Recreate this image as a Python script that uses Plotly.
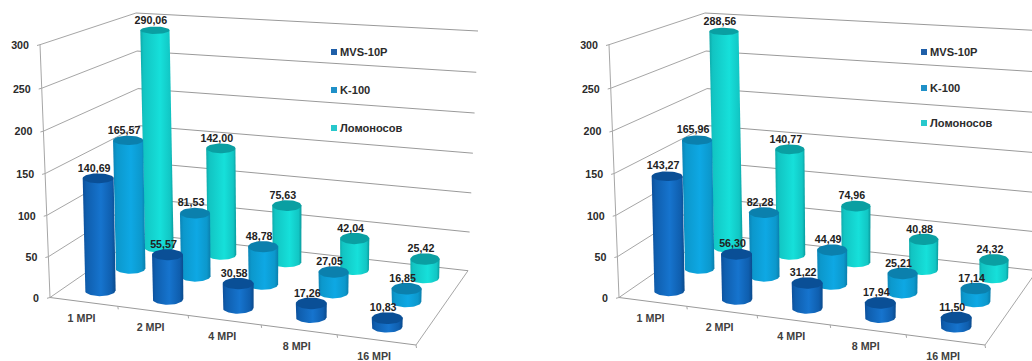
import numpy as np
import plotly.graph_objects as go

categories = ["1 MPI", "2 MPI", "4 MPI", "8 MPI", "16 MPI"]
series_names = ["MVS-10P", "K-100", "Ломоносов"]
y_ticks = [0, 50, 100, 150, 200, 250, 300]

left_mvs = [140.69, 55.57, 30.58, 17.26, 10.83]
left_k100 = [165.57, 81.53, 48.78, 27.05, 16.85]
left_lomonosov = [290.06, 142.00, 75.63, 42.04, 25.42]

right_mvs = [143.27, 56.30, 31.22, 17.94, 11.50]
right_k100 = [165.96, 82.28, 44.49, 25.21, 17.14]
right_lomonosov = [288.56, 140.77, 74.96, 40.88, 24.32]

panel_offset = [0, 569]
legend_x = [334, 924]
legend_y = [[52, 90, 128], [52, 88, 123]]

side_scales = [
    [[0, "#0c4f9a"], [0.12, "#0f5eae"], [0.55, "#1674ce"], [0.88, "#0f5eae"], [1, "#0a4a8c"]],
    [[0, "#0b84b6"], [0.12, "#0c98cc"], [0.55, "#0ea8e4"], [0.88, "#0c98cc"], [1, "#0a7eac"]],
    [[0, "#0ea8a8"], [0.1, "#12c4c2"], [0.6, "#16e0da"], [0.9, "#12c6c4"], [1, "#0a9a9c"]],
]
cap_colors = ["#0a4f96", "#0b80ad", "#0a9fa2"]
legend_colors = ["#1f5fa8", "#1f90c8", "#28c8cc"]
grid_color = "#a6a6a6"
text_color = "#2b2b2b"
FONT = "Liberation Sans"
TEXT_DY = 1.6

# projection corners of the plot box (floor and walls)
A0, A1 = np.array([50, 297.5]), np.array([40, 44.7])
C0, C1 = np.array([142, 234.0]), np.array([136, 13.0])
D0, D1 = np.array([468, 270.7]), np.array([478, 31.0])
B0 = np.array([416, 345.0])


def warp(t, k):
    return t / (t + (1 - t) * k)


def floor(u, v):
    uu, vv = warp(u, 1.1), warp(v, 0.92)
    return A0 + uu * (B0 - A0) + vv * (C0 - A0) + uu * vv * (A0 - B0 - C0 + D0)


def wall(p0, p1, value):
    return p0 + warp(value / 300, 1.04) * (p1 - p0)


fig = go.Figure()


def line(p, q, dx, color=grid_color, width=1):
    fig.add_trace(go.Scatter(x=[p[0] + dx, q[0] + dx], y=[p[1], q[1]], mode="lines",
                             line=dict(color=color, width=width), hoverinfo="skip"))


def text(xs, ys, labels, pos="middle center", size=10.7, color=text_color):
    fig.add_trace(go.Scatter(x=xs, y=[y + TEXT_DY for y in ys], text=labels, mode="text", textposition=pos,
                             textfont=dict(family=FONT, size=size, color=color, weight="bold"),
                             hoverinfo="skip", cliponaxis=False))


def cylinder(u, v, value, s, dx):
    base = floor(u, v)
    scale = (0.785 - 0.07 * v) * 1.03
    tilt = (-0.018 + 0.04 * u) * value
    r = 15.7 - 1.3 * v
    b_low = 6.0 - 1.0 * v
    b_top = 6.0 - 0.008 * value
    bx, by = base[0] + dx + 0.8, base[1]
    tx, ty = bx + tilt, by - value * scale
    th = np.linspace(0, np.pi, 32)
    # side: left edge down, front of the lower ellipse, right edge up
    sx = np.concatenate([[tx - r], bx - r * np.cos(th), [tx + r]])
    sy = np.concatenate([[ty], by + b_low * np.sin(th), [ty]])
    fig.add_trace(go.Scatter(x=sx, y=sy, mode="lines", fill="toself", line=dict(width=0),
                             fillgradient=dict(type="horizontal", start=min(bx, tx) - r,
                                               stop=max(bx, tx) + r, colorscale=side_scales[s]),
                             hoverinfo="skip"))
    th2 = np.linspace(0, 2 * np.pi, 48)
    fig.add_trace(go.Scatter(x=tx + r * np.cos(th2), y=ty + b_top * np.sin(th2), mode="lines",
                             fill="toself", fillcolor=cap_colors[s], line=dict(width=0),
                             hoverinfo="skip"))
    return tx, ty


panels = [(left_mvs, left_k100, left_lomonosov), (right_mvs, right_k100, right_lomonosov)]
for p, values in enumerate(panels):
    dx = panel_offset[p]
    # walls and floor
    for t in y_ticks:
        a, c, d = wall(A0, A1, t), wall(C0, C1, t), wall(D0, D1, t)
        line(a, c, dx)
        line(c, d, dx, color="#9a9a9a")
        line(a, a + np.array([-3, 0.8]), dx)
    line(A0, A1, dx)
    line(A0, B0, dx, color="#9a9a9a")
    line(B0, D0, dx)
    for i in range(1, 6):
        q = floor(i / 5, 0)
        line(q, q + np.array([0.5, 3]), dx)
    text([wall(A0, A1, t)[0] + dx - 11 for t in y_ticks],
         [wall(A0, A1, t)[1] for t in y_ticks],
         [str(t) for t in y_ticks], pos="middle left")
    cat_pts = [floor((i + 0.5) / 5, 0) for i in range(5)]
    text([q[0] + dx - 2 for q in cat_pts], [q[1] + 15.5 for q in cat_pts], categories, color="#404040")

    # bars, back row first
    lx, ly, ll = [], [], []
    for s in (2, 1, 0):
        v = (s + 0.5) / 3
        for i, value in enumerate(values[s]):
            tx, ty = cylinder((i + 0.5) / 5, v, value, s, dx)
            lx.append(tx - 4)
            ly.append(ty - 11)
            ll.append(f"{value:.2f}".replace(".", ","))
    text(lx, ly, ll, color="#222222")

    # legend
    for s, name in enumerate(series_names):
        fig.add_trace(go.Scatter(x=[legend_x[p]], y=[legend_y[p][s]], mode="markers",
                                 marker=dict(symbol="square", size=6, color=legend_colors[s], line=dict(width=0)),
                                 hoverinfo="skip"))
        text([legend_x[p] + 6], [legend_y[p][s]], [name], pos="middle right", size=11.1)

fig.update_layout(
    width=1032, height=361, margin=dict(l=0, r=0, t=0, b=0),
    paper_bgcolor="white", plot_bgcolor="white", showlegend=False,
    xaxis=dict(range=[0, 1032], visible=False, fixedrange=True),
    yaxis=dict(range=[361, 0], visible=False, fixedrange=True),
)
fig.write_html("out.html", config={"displayModeBar": False},
               post_script="document.body.style.margin='0';document.body.style.overflow='hidden';")
